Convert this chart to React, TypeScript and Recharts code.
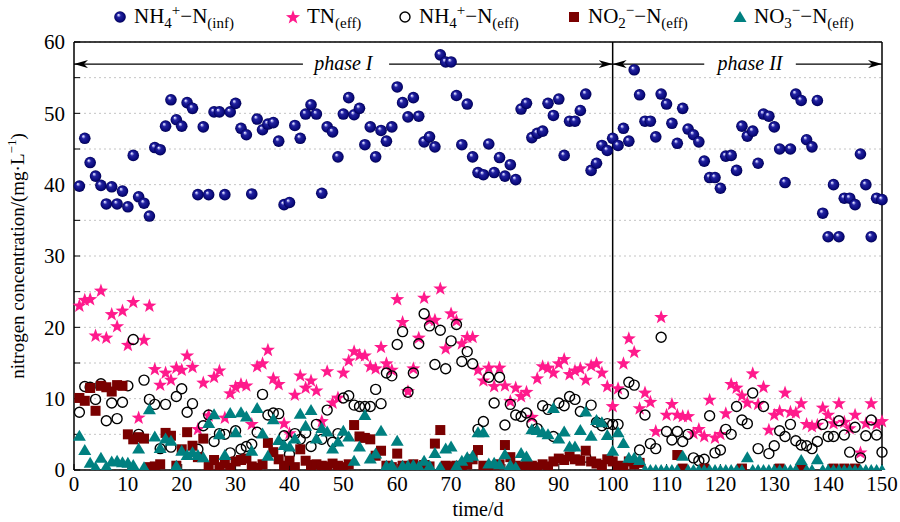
import React from 'react';
import {
  ScatterChart,
  Scatter,
  XAxis,
  YAxis,
  CartesianGrid,
  ReferenceLine,
  ReferenceDot,
} from 'recharts';

const FONT = "'Liberation Serif', 'DejaVu Serif', serif";
const PINK = '#ff1a8c';
const MAROON = '#7a0000';
const TEAL = '#008080';

// sampling days 1..150
const days = Array.from({ length: 150 }, (_, i) => i + 1);

const nh4Inf = [
  39.8, 46.5, 43.1, 41.2, 39.9, 37.3, 39.7, 37.3, 39.1, 36.9,
  44.1, 38.3, 37.4, 35.6, 45.2, 44.9, 48.2, 51.9, 49.1, 48.2,
  51.5, 50.7, 38.6, 48.1, 38.6, 50.2, 50.2, 38.6, 50.2, 51.4,
  47.9, 47.0, 38.7, 49.2, 47.7, 48.5, 48.7, 46.1, 37.2, 37.5,
  48.3, 46.5, 49.9, 51.2, 49.9, 38.8, 48.1, 47.4, 43.9, 49.9,
  52.2, 49.8, 50.7, 45.6, 48.1, 43.9, 47.6, 46.1, 48.1, 53.7,
  51.5, 49.5, 52.2, 49.6, 46.0, 46.7, 45.3, 58.2, 57.2, 57.2,
  52.5, 45.6, 51.3, 43.9, 41.7, 41.4, 45.7, 41.7, 43.8, 41.2,
  42.8, 40.7, 50.6, 51.4, 46.6, 47.2, 47.5, 51.4, 49.7, 52.0,
  44.1, 48.9, 48.9, 50.4, 52.7, 42.0, 43.0, 45.5, 44.8, 46.5,
  45.5, 47.9, 46.1, 56.1, 52.6, 48.9, 48.9, 46.7, 52.7, 51.3,
  48.6, 45.8, 50.7, 47.8, 47.0, 46.0, 43.3, 41.0, 41.0, 39.5,
  44.0, 44.1, 42.0, 48.2, 46.8, 47.5, 43.0, 49.9, 49.6, 48.1,
  45.0, 40.3, 45.0, 52.7, 51.8, 46.3, 45.3, 51.8, 36.0, 32.7,
  40.0, 32.7, 38.1, 38.1, 37.2, 44.3, 40.0, 32.7, 38.1, 37.9,
];

const tnEff = [
  23.0, 23.8, 23.9, 18.8, 25.1, 18.5, 21.8, 20.1, 22.3, 17.5,
  23.5, 7.3, 18.2, 23.0, 14.1, 11.9, 13.6, 12.6, 14.3, 14.0,
  16.0, 14.4, 5.7, 12.2, 7.6, 13.0, 13.9, 7.3, 10.7, 11.6,
  12.0, 11.8, 6.4, 14.5, 14.9, 16.8, 12.8, 12.0, 6.5, 5.1,
  10.5, 13.2, 11.5, 12.5, 11.1, 6.8, 13.8, 9.4, 10.1, 13.6,
  15.3, 16.6, 16.1, 16.0, 14.5, 14.2, 17.2, 14.9, 14.0, 23.9,
  20.7, 11.0, 14.2, 18.5, 24.1, 21.0, 21.0, 25.4, 17.0, 21.9,
  20.9, 17.7, 18.6, 18.6, 14.0, 12.5, 14.3, 11.7, 14.3, 11.8,
  9.6, 11.5, 10.3, 10.9, 7.4, 12.8, 14.5, 14.3, 13.6, 14.9,
  15.5, 13.4, 13.9, 14.2, 12.6, 14.6, 14.9, 13.6, 11.7, 8.9,
  11.4, 14.9, 18.4, 16.5, 8.6, 10.8, 9.5, 5.4, 21.4, 7.7,
  9.2, 7.7, 7.5, 7.5, 5.1, 5.7, 4.7, 9.8, 4.5, 5.0,
  7.9, 12.0, 11.5, 10.4, 9.4, 13.5, 9.2, 11.6, 5.6, 7.7,
  8.2, 10.8, 8.1, 8.0, 9.3, 6.4, 6.1, 6.3, 8.7, 7.7,
  6.5, 9.3, 6.7, 5.8, 7.7, 2.4, 6.5, 9.3, 6.4, 6.8,
];

const nh4Eff = [
  8.1, 11.7, 11.6, 9.9, 12.1, 6.9, 9.4, 7.2, 9.5, 11.8,
  18.3, 5.0, 12.6, 9.9, 9.2, 3.0, 9.2, 3.2, 10.3, 11.4,
  8.1, 9.3, 2.9, 6.2, 7.7, 4.0, 5.1, 5.0, 2.4, 5.5,
  2.9, 3.3, 3.6, 5.3, 10.6, 7.7, 8.0, 7.9, 4.8, 2.2,
  5.1, 4.3, 5.2, 3.3, 6.4, 4.3, 8.4, 3.9, 5.1, 10.1,
  10.4, 9.1, 8.9, 8.9, 8.9, 11.3, 9.3, 13.6, 13.2, 17.6,
  19.4, 10.9, 13.6, 17.7, 21.9, 20.2, 14.8, 19.6, 14.2, 18.1,
  20.4, 15.2, 16.6, 14.9, 5.7, 6.8, 13.0, 9.4, 13.0, 6.3,
  9.2, 7.7, 7.5, 8.0, 6.5, 5.8, 9.0, 8.5, 4.7, 9.4,
  9.0, 10.3, 9.9, 8.2, 1.8, 9.1, 6.7, 6.2, 6.5, 6.4,
  6.4, 10.7, 12.3, 11.9, 2.8, 7.7, 3.7, 3.0, 18.6, 5.4,
  4.2, 5.4, 4.0, 5.0, 1.7, 1.3, 1.5, 7.6, 2.4, 2.8,
  5.7, 5.0, 8.9, 7.0, 6.5, 10.8, 3.0, 8.9, 2.3, 3.4,
  5.5, 4.7, 6.4, 4.1, 3.5, 3.4, 3.0, 4.0, 6.4, 4.7,
  4.7, 6.9, 4.9, 2.5, 6.0, 1.7, 4.8, 7.0, 4.9, 2.5,
];

// null = no square visible in the figure
const no2Eff = [
  10.1, 9.7, 11.5, 8.3, 11.8, 11.6, 11.0, 11.9, 11.8, 5.0,
  4.3, 4.6, 4.4, 0.4, 0.5, 0.8, 5.2, 4.8, 0.6, 2.9,
  5.3, 3.4, 1.8, 4.4, 0.5, 1.4, 0.4, 0.9, 0.3, 1.2,
  1.4, 1.6, 0.5, 0.3, 0.8, 3.8, 2.5, 1.5, 0.6, 1.3,
  0.4, 2.9, 1.3, 0.7, 0.8, 0.6, 0.5, 0.9, 0.6, 0.4,
  0.8, 6.3, 4.7, 4.5, 4.3, 2.0, 2.7, 0.6, 0.4, 2.3,
  0.6, 0.5, 0.8, 0.4, 0.7, 0.5, 3.7, 5.6, 0.6, 0.5,
  0.6, 0.4, 0.8, 1.5, 2.8, 0.6, 0.4, 0.5, 0.8, 3.5,
  1.8, 0.6, 0.5, 0.7, 0.6, 0.4, 0.8, 0.5, 1.2, 1.6,
  1.4, 1.9, 1.5, 1.3, 2.7, 1.2, 0.9, 0.7, 1.5, 1.2,
  0.6, 0.5, 1.2, 0.8, 1.0, null, null, null, null, null,
  null, 2.1, 0.2, null, null, null, 0.2, null, null, null,
  null, null, null, 0.2, null, null, null, null, null, null,
  0.2, null, null, null, 0.2, null, null, null, null, null,
  0.2, null, 0.2, null, 0.2, null, null, null, null, null,
];

const no3Eff = [
  4.8, 2.8, 1.0, 0.4, 1.7, 0.5, 1.2, 1.3, 1.1, 1.0,
  0.7, 3.0, 0.4, 8.5, 4.7, 3.1, 4.4, 4.1, 0.6, 2.7,
  2.1, 2.5, 2.1, 1.8, 6.6, 7.8, 5.0, 2.1, 8.0, 5.3,
  8.1, 7.5, 2.7, 8.7, 5.1, 2.0, 7.1, 4.2, 3.5, 3.3,
  4.4, 7.9, 6.2, 8.4, 4.4, 5.9, 5.4, 3.0, 4.0, 5.5,
  4.7, 1.3, 3.3, 7.7, 1.6, 2.3, 5.5, 0.6, 0.7, 4.1,
  0.6, 0.6, 0.7, 0.5, 1.3, 0.6, 2.4, 0.4, 3.0, 3.3,
  0.6, 1.3, 1.8, 2.0, 5.3, 5.3, 0.9, 1.0, 0.8, 2.2,
  0.7, 0.4, 2.4, 1.9, 5.7, 5.6, 5.3, 5.0, 8.7, 4.4,
  5.4, 3.3, 3.3, 5.6, 8.2, 4.8, 7.0, 6.7, 4.9, 2.7,
  5.3, 3.8, 1.7, 1.7, 1.4, 0, 0, 0, 0, 0,
  0, 0, 2.0, 0, 0, 0, 0, 0, 0, 0,
  0, 0, 0, 0, 1.8, 0, 0, 0, 0, 0,
  0, 0, 0, 0, 1.4, 0, 0, 1.5, 0, 0,
  0, 0, 0, 0, 0, 0, 0, 0, 0, 0,
];

const xTicks = [0, 10, 20, 30, 40, 50, 60, 70, 80, 90, 100, 110, 120, 130, 140, 150];
const yTicks = [0, 5, 10, 15, 20, 25, 30, 35, 40, 45, 50, 55, 60];

const phaseSplit = 100;
const phaseLabels = ['phase I', 'phase II'];

const legendItems = [
  { type: 'ball', parts: ['NH', '4', '+', '−N', '(inf)'] },
  { type: 'star', parts: ['TN', '', '', '', '(eff)'] },
  { type: 'ring', parts: ['NH', '4', '+', '−N', '(eff)'] },
  { type: 'square', parts: ['NO', '2', '−', '−N', '(eff)'] },
  { type: 'tri', parts: ['NO', '3', '−', '−N', '(eff)'] },
];

const toPoints = (vals: (number | null)[]) =>
  vals
    .map((v, i) => ({ day: days[i], value: v }))
    .filter((p) => p.value !== null);

const starPath = (cx: number, cy: number, ro: number, ri: number) => {
  let d = '';
  for (let k = 0; k < 10; k++) {
    const a = -Math.PI / 2 + (k * Math.PI) / 5;
    const r = k % 2 === 0 ? ro : ri;
    d += (k === 0 ? 'M' : 'L') + (cx + r * Math.cos(a)).toFixed(2) + ',' + (cy + r * Math.sin(a)).toFixed(2);
  }
  return d + 'Z';
};

const Ball = (p: any) => <circle cx={p.cx} cy={p.cy} r={5.8} fill="url(#ballGrad)" />;
const Star = (p: any) => <path d={starPath(p.cx, p.cy, 7.4, 3.0)} fill={PINK} />;
const Ring = (p: any) => <circle cx={p.cx} cy={p.cy} r={5} fill="none" stroke="#000" strokeWidth={1.4} />;
const Square = (p: any) => <rect x={p.cx - 5} y={p.cy - 5} width={10} height={10} fill={MAROON} />;
const Tri = (p: any) => (
  <path d={`M${p.cx},${p.cy - 6}L${p.cx + 6.5},${p.cy + 5}L${p.cx - 6.5},${p.cy + 5}Z`} fill={TEAL} />
);

const ArrowLine = (p: any) => (
  <line x1={p.x1} y1={p.y1} x2={p.x2} y2={p.y2} stroke="#000" strokeWidth={1.3} markerEnd="url(#arrowHead)" />
);

const PhaseText = ({ viewBox, text }: any) => {
  const cx = viewBox.x + viewBox.width / 2;
  const cy = viewBox.y + viewBox.height / 2;
  return (
    <text x={cx} y={cy + 6} textAnchor="middle" fontFamily={FONT} fontSize={20} fontStyle="italic" fill="#000">
      {text}
    </text>
  );
};

const XTitle = ({ viewBox }: any) => (
  <text x={viewBox.x + viewBox.width / 2} y={516} textAnchor="middle" fontFamily={FONT} fontSize={20} fill="#000">
    time/d
  </text>
);

const YTitle = ({ viewBox }: any) => {
  const cx = viewBox.x + 24;
  const cy = viewBox.y + viewBox.height / 2;
  return (
    <text transform={`translate(${cx},${cy}) rotate(-90)`} textAnchor="middle" fontFamily={FONT} fontSize={19} fill="#000">
      nitrogen concentration/(mg·L
      <tspan dy={-8} fontSize={13}>−1</tspan>
      <tspan dy={8}>)</tspan>
    </text>
  );
};

const LegendIcon = ({ type }: { type: string }) => (
  <svg width={16} height={16} style={{ display: 'block' }}>
    <defs>
      <radialGradient id="ballGradLeg" cx="50%" cy="50%" r="50%" fx="35%" fy="30%">
        <stop offset="0" stopColor="#ffffff" />
        <stop offset="0.15" stopColor="#a8a8ee" />
        <stop offset="0.35" stopColor="#2323a0" />
        <stop offset="0.8" stopColor="#0a0a7c" />
        <stop offset="1" stopColor="#000050" />
      </radialGradient>
    </defs>
    {type === 'ball' && <circle cx={8} cy={8} r={5.8} fill="url(#ballGradLeg)" />}
    {type === 'star' && <path d={starPath(8, 8.5, 7.4, 3.0)} fill={PINK} />}
    {type === 'ring' && <circle cx={8} cy={8} r={5} fill="none" stroke="#000" strokeWidth={1.4} />}
    {type === 'square' && <rect x={3} y={3} width={10} height={10} fill={MAROON} />}
    {type === 'tri' && <path d="M8,2L14.5,13L1.5,13Z" fill={TEAL} />}
  </svg>
);

const legendLeft = [112, 285, 397, 566, 732];

const ChartLegend = () => (
  <>
    {legendItems.map((item, i) => {
      const [main, sub, sup, tail, sub2] = item.parts;
      return (
        <div
          key={i}
          style={{
            position: 'absolute',
            left: legendLeft[i],
            top: 4,
            height: 26,
            display: 'flex',
            alignItems: 'center',
            whiteSpace: 'nowrap',
            fontFamily: FONT,
          }}
        >
          <LegendIcon type={item.type} />
          <span style={{ marginLeft: 6, fontSize: 21, lineHeight: '26px', color: '#000' }}>
            {main}
            {sub && <span style={{ fontSize: 15, position: 'relative', top: 5 }}>{sub}</span>}
            {sup && <span style={{ fontSize: 15, position: 'relative', top: -8 }}>{sup}</span>}
            {tail}
            <span style={{ fontSize: 15, position: 'relative', top: 5 }}>{sub2}</span>
          </span>
        </div>
      );
    })}
  </>
);

export default function App() {
  return (
    <div
      style={{
        position: 'absolute',
        left: 0,
        top: 0,
        width: 900,
        height: 522,
        background: '#fff',
        fontFamily: FONT,
      }}
    >
      <ScatterChart width={900} height={522} margin={{ top: 42, right: 18, bottom: 0, left: 0 }}>
        <defs>
          <radialGradient id="ballGrad" cx="50%" cy="50%" r="50%" fx="35%" fy="30%">
            <stop offset="0" stopColor="#ffffff" />
            <stop offset="0.15" stopColor="#a8a8ee" />
            <stop offset="0.35" stopColor="#2323a0" />
            <stop offset="0.8" stopColor="#0a0a7c" />
            <stop offset="1" stopColor="#000050" />
          </radialGradient>
          <marker
            id="arrowHead"
            viewBox="0 0 14 8"
            refX={14}
            refY={4}
            markerWidth={14}
            markerHeight={8}
            orient="auto"
            markerUnits="userSpaceOnUse"
          >
            <path d="M0,0L14,4L0,8L4,4Z" fill="#000" />
          </marker>
        </defs>
        <CartesianGrid vertical={false} stroke="#c4c4c4" strokeDasharray="2 3" />
        <XAxis
          type="number"
          dataKey="day"
          domain={[0, 150]}
          ticks={xTicks}
          height={52}
          tickSize={-6}
          tickMargin={12}
          axisLine={{ stroke: '#000', strokeWidth: 1.5 }}
          tickLine={{ stroke: '#000' }}
          tick={{ fill: '#000', fontSize: 21, fontFamily: FONT }}
          label={<XTitle />}
        />
        <YAxis
          type="number"
          dataKey="value"
          domain={[0, 60]}
          ticks={yTicks}
          width={74}
          tickSize={-6}
          tickMargin={15}
          allowDataOverflow
          axisLine={{ stroke: '#000', strokeWidth: 1.5 }}
          tickLine={{ stroke: '#000' }}
          tick={{ fill: '#000', fontSize: 21, fontFamily: FONT }}
          tickFormatter={(v: number) => (v % 10 === 0 ? String(v) : '')}
          label={<YTitle />}
        />
        <ReferenceLine y={60} stroke="#000" strokeWidth={1.5} />
        <ReferenceLine x={150} stroke="#000" strokeWidth={1.5} />
        <ReferenceLine x={phaseSplit} stroke="#000" strokeWidth={1.5} />

        <ReferenceLine segment={[{ x: 42.5, y: 56.9 }, { x: 0, y: 56.9 }]} shape={ArrowLine} />
        <ReferenceLine segment={[{ x: 58.5, y: 56.9 }, { x: phaseSplit, y: 56.9 }]} shape={ArrowLine} />
        <ReferenceLine segment={[{ x: 117, y: 56.9 }, { x: phaseSplit, y: 56.9 }]} shape={ArrowLine} />
        <ReferenceLine segment={[{ x: 134, y: 56.9 }, { x: 150, y: 56.9 }]} shape={ArrowLine} />
        <ReferenceDot x={50} y={56.9} r={3} fill="none" stroke="none" label={<PhaseText text={phaseLabels[0]} />} />
        <ReferenceDot x={125.5} y={56.9} r={3} fill="none" stroke="none" label={<PhaseText text={phaseLabels[1]} />} />

        <Scatter data={toPoints(nh4Inf)} shape={Ball} isAnimationActive={false} />
        <Scatter data={toPoints(tnEff)} shape={Star} isAnimationActive={false} />
        <Scatter data={toPoints(nh4Eff)} shape={Ring} isAnimationActive={false} />
        <Scatter data={toPoints(no2Eff)} shape={Square} isAnimationActive={false} />
        <Scatter data={toPoints(no3Eff)} shape={Tri} isAnimationActive={false} />
      </ScatterChart>
      <ChartLegend />
    </div>
  );
}
